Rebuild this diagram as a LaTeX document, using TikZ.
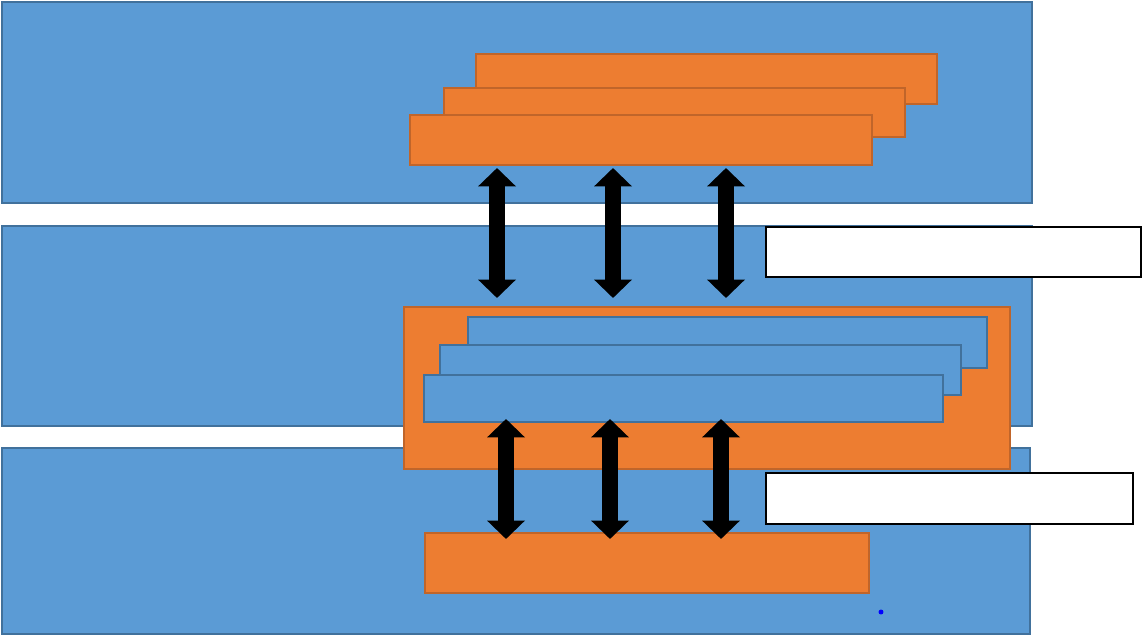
\documentclass[tikz,border=0pt]{standalone}
\usepackage{tikz}
\usetikzlibrary{fit,arrows.meta}

\definecolor{bandblue}{HTML}{5B9BD5}
\definecolor{bandedge}{HTML}{41719C}
\definecolor{slaborange}{HTML}{ED7D31}
\definecolor{slabedge}{HTML}{C0652A}

\tikzset{
  band/.style={draw=bandedge,fill=bandblue,line width=0.6pt,inner sep=0pt,outer sep=0pt},
  slab/.style={draw=slabedge,fill=slaborange,line width=0.6pt,inner sep=0pt,outer sep=0pt},
  blank/.style={draw=black,fill=white,line width=0.9pt,inner sep=0pt,outer sep=0pt},
  dbl/.style={line width=9.5pt,{Triangle[width=21pt,length=10.5pt]}-{Triangle[width=21pt,length=10.5pt]}}
}

\begin{document}
\begin{tikzpicture}[x=0.02cm,y=-0.02cm]
          \useasboundingbox (0,0) rectangle (1143,635);
          % three layers
          \node[band,fit={(2,2) (1032,203)}] (bandtop) {};
          \node[band,fit={(2,226) (1032,426)}] (bandmid) {};
          \node[band,fit={(2,448) (1030,634)}] (bandbot) {};
          % upper stack
          \node[slab,fit={(476,54) (937,104)}] (otop1) {};
          \node[slab,fit={(444,88) (905,137)}] (otop2) {};
          \node[slab,fit={(410,115) (872,165)}] (otop3) {};
          \node[blank,fit={(766,227) (1141,277)}] (label1) {};
          % middle block
          \node[slab,fit={(404,307) (1010,469)}] (omid) {};
          \node[band,fit={(468,317) (987,368)}] (bin1) {};
          \node[band,fit={(440,345) (961,395)}] (bin2) {};
          \node[band,fit={(424,375) (943,422)}] (bin3) {};
          \node[blank,fit={(766,473) (1133,524)}] (label2) {};
          % lower slab
          \node[slab,fit={(425,533) (869,593)}] (obot) {};
          \node[circle,fill=blue,inner sep=1pt] (dot) at (881,612) {};
          % arrows
          \foreach \x in {497,613,726}
            \draw[dbl,shorten <=0.06cm,shorten >=0.18cm] (\x,0 |- otop3.south) -- (\x,0 |- omid.north);
          \foreach \x in {506,610,721}
            \draw[dbl,shorten <=-0.06cm,shorten >=-0.12cm] (\x,0 |- bin3.south) -- (\x,0 |- obot.north);
        \end{tikzpicture}
\end{document}
